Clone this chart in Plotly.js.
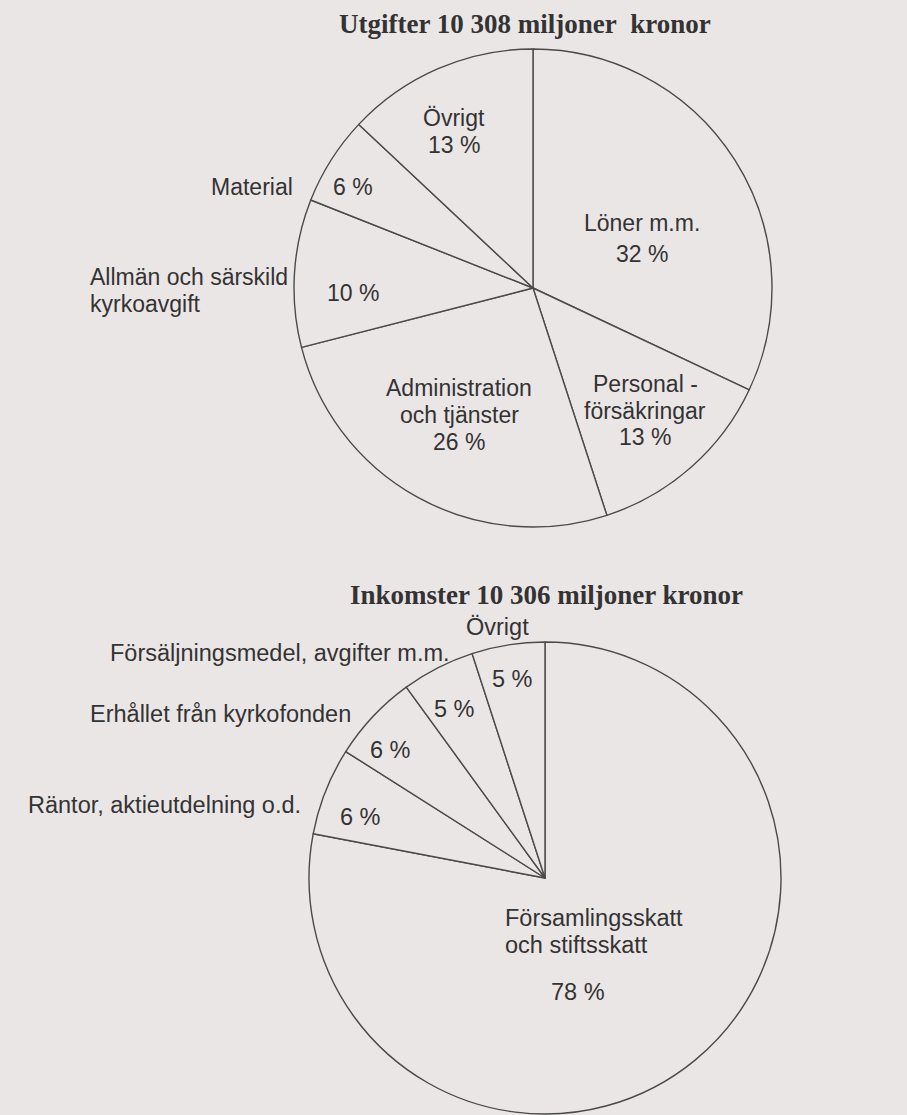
<!DOCTYPE html>
<html>
<head>
<meta charset="utf-8">
<script src="https://cdn.plot.ly/plotly-3.0.1.min.js"></script>
<style>
html,body{margin:0;padding:0;background:#ebe6e6;}
#chart{width:907px;height:1115px;}
</style>
</head>
<body>
<div id="chart"></div>
<script>
// ---- data ----
const titleUtgifter = "Utgifter 10 308 miljoner\u00a0 kronor";
const titleInkomster = "Inkomster 10 306 miljoner kronor";

const utgifterLabels = ["Löner m.m.", "Personal -<br>försäkringar", "Administration<br>och tjänster", "Allmän och särskild<br>kyrkoavgift", "Material", "Övrigt"];
const utgifterValues = [32, 13, 26, 10, 6, 13];

const inkomsterLabels = ["Församlingsskatt<br>och stiftsskatt", "Räntor, aktieutdelning o.d.", "Erhållet från kyrkofonden", "Försäljningsmedel, avgifter m.m.", "Övrigt"];
const inkomsterValues = [78, 6, 6, 5, 5];

// ---- layout helpers ----
const W = 907, H = 1115;
const bg = "#ebe6e6";
const ink = "#333333";
const lineGap = 27;
function px(x){ return x / W; }
function py(y){ return 1 - y / H; }
function dom(cx, cy, r){ return {x:[px(cx - r), px(cx + r)], y:[py(cy + r), py(cy - r)]}; }

const labelFont = {family:"Liberation Sans, Arial, sans-serif", size:23, color:ink};
const bottomLabelFont = {family:"Liberation Sans, Arial, sans-serif", size:23.5, color:ink};
const titleFont = {family:"Liberation Serif, Times New Roman, serif", size:27, color:ink};

function ann(text, x, y, xanchor, align, font){
  return {text:text, x:px(x), y:py(y), xref:"paper", yref:"paper",
          xanchor:xanchor || "center", yanchor:"middle", align:align || "center",
          showarrow:false, font:font || labelFont};
}
// multi-line label: each line placed separately around centre y
function multi(list, text, x, yc, xanchor, font){
  const lines = text.split("<br>");
  const y0 = yc - (lines.length - 1) * lineGap / 2;
  lines.forEach((ln, k) => list.push(ann(ln, x, y0 + k * lineGap, xanchor, xanchor === "center" ? "center" : xanchor, font)));
}
function pct(v){ return v + " %"; }

// label placement (pixel positions) for each slice: [name x, name centre y, anchor, pct x, pct y]
const utgPos = [
  [642, 223, "center", 642, 254],
  [645, 397, "center", 645, 437],
  [459, 401, "center", 459, 442],
  [88, 291, "left", 353, 293],
  [295, 187, "right", 353, 187],
  [454, 118, "center", 454, 145]
];
const inkPos = [
  [503, 931, "left", 578, 992],
  [303, 805, "right", 360, 817],
  [353, 714, "right", 390, 750],
  [452, 653, "right", 455, 709],
  [498, 627, "center", 512, 679]
];

const annotations = [];
annotations.push(ann("<b>" + titleUtgifter + "</b>", 525, 24, "center", "center", titleFont));
annotations.push(ann("<b>" + titleInkomster + "</b>", 546, 595, "center", "center", titleFont));
utgifterLabels.forEach((l, i) => {
  const p = utgPos[i];
  multi(annotations, l, p[0], p[1], p[2], labelFont);
  annotations.push(ann(pct(utgifterValues[i]), p[3], p[4]));
});
inkomsterLabels.forEach((l, i) => {
  const p = inkPos[i];
  multi(annotations, l, p[0], p[1], p[2], bottomLabelFont);
  annotations.push(ann(pct(inkomsterValues[i]), p[3], p[4], "center", "center", bottomLabelFont));
});

const sliceStyle = (n) => ({colors: Array(n).fill(bg), line:{color:"#4a4a4a", width:1.4}});

const traces = [
  {type:"pie", labels:utgifterLabels, values:utgifterValues, sort:false,
   direction:"clockwise", rotation:0, textinfo:"none", hoverinfo:"label+percent",
   marker:sliceStyle(utgifterValues.length), domain:dom(533, 288, 239), showlegend:false},
  {type:"pie", labels:inkomsterLabels, values:inkomsterValues, sort:false,
   direction:"clockwise", rotation:0, textinfo:"none", hoverinfo:"label+percent",
   marker:sliceStyle(inkomsterValues.length), domain:dom(545, 878, 236), showlegend:false}
];

const layout = {
  width:W, height:H,
  margin:{l:0, r:0, t:0, b:0},
  paper_bgcolor:bg, plot_bgcolor:bg,
  showlegend:false,
  annotations:annotations
};

Plotly.newPlot("chart", traces, layout, {displayModeBar:false, staticPlot:true});
</script>
</body>
</html>
